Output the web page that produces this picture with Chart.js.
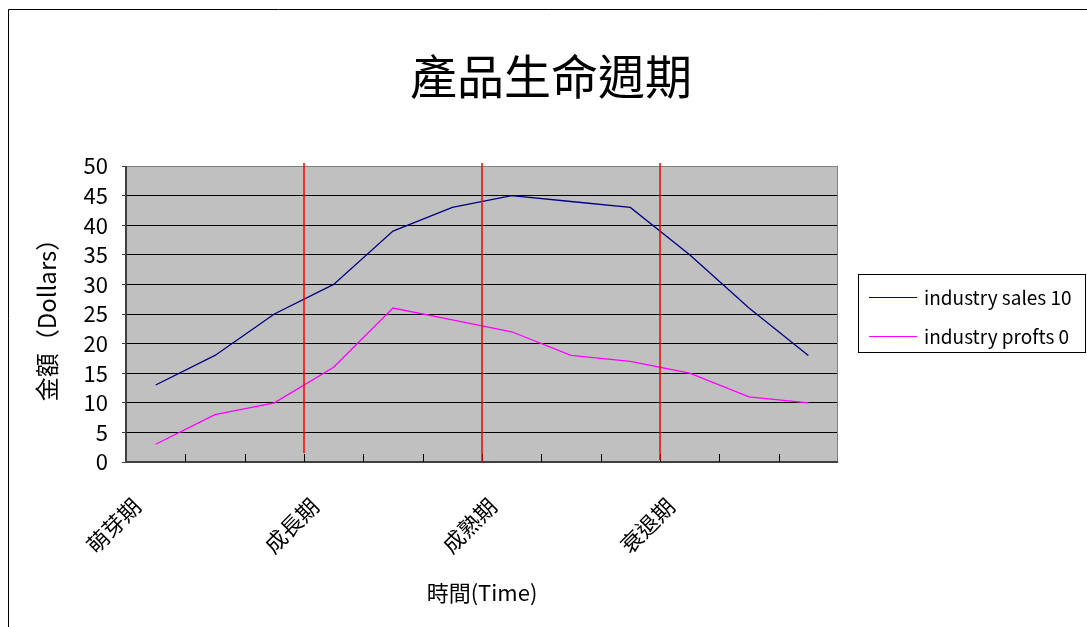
<!DOCTYPE html>
<html>
<head>
<meta charset="utf-8">
<script src="https://cdn.jsdelivr.net/npm/chart.js@4/dist/chart.umd.min.js"></script>
<style>
html,body{margin:0;padding:0;background:#fff;}
#wrap{width:1087px;height:627px;position:relative;}
</style>
</head>
<body>
<div id="wrap"><canvas id="c" width="1087" height="627"></canvas></div>
<script>
const chartTitle = '產品生命週期';
const categories = ['萌芽期', '', '', '成長期', '', '', '成熟期', '', '', '衰退期', '', ''];
const salesLabel = 'industry sales 10';
const profitsLabel = 'industry profts 0';
const salesValues = [13, 18, 25, 30, 39, 43, 45, 44, 43, 35, 26, 18];
const profitsValues = [3, 8, 10, 16, 26, 24, 22, 18, 17, 15, 11, 10];
const phaseBoundaries = [2.5, 5.5, 8.5];
const yTitle = '金額（Dollars）';
const xTitle = '時間(Time)';

const FONT = '"Noto Sans CJK TC", "Noto Sans", sans-serif';

const decor = {
  id: 'decor',
  beforeDraw(chart) {
    const ctx = chart.ctx;
    const a = chart.chartArea;
    ctx.save();
    ctx.fillStyle = '#fff';
    ctx.fillRect(0, 0, chart.width, chart.height);
    ctx.strokeStyle = '#000';
    ctx.lineWidth = 1;
    ctx.beginPath();
    ctx.moveTo(8.5, chart.height + 2);
    ctx.lineTo(8.5, 9.5);
    ctx.lineTo(chart.width + 2, 9.5);
    ctx.stroke();
    ctx.fillStyle = '#c0c0c0';
    ctx.fillRect(a.left, a.top, a.right - a.left, a.bottom - a.top);
    ctx.restore();
  },
  afterDatasetsDraw(chart) {
    const ctx = chart.ctx;
    const a = chart.chartArea;
    const xs = chart.scales.x;
    ctx.save();
    ctx.strokeStyle = '#808080';
    ctx.lineWidth = 1;
    ctx.strokeRect(a.left + 0.5, a.top + 0.5, a.right - a.left - 1, a.bottom - a.top - 1);
    ctx.strokeStyle = '#404040';
    ctx.lineWidth = 2;
    ctx.beginPath();
    ctx.moveTo(a.left, a.top);
    ctx.lineTo(a.left, a.bottom);
    ctx.lineTo(a.right, a.bottom);
    ctx.stroke();
    ctx.strokeStyle = '#000';
    ctx.lineWidth = 1;
    ctx.beginPath();
    for (let i = 1; i < categories.length; i++) {
      const x = Math.round(xs.getPixelForValue(i - 0.5)) + 0.5;
      ctx.moveTo(x, a.bottom);
      ctx.lineTo(x, a.bottom - 8);
    }
    ctx.stroke();
    ctx.strokeStyle = '#ff0000';
    ctx.lineWidth = 1.5;
    const ends = [a.bottom - 9, a.bottom, a.bottom - 2];
    phaseBoundaries.forEach((v, i) => {
      const x = Math.round(xs.getPixelForValue(v));
      ctx.beginPath();
      ctx.moveTo(x, a.top - 3);
      ctx.lineTo(x, ends[i]);
      ctx.stroke();
    });
    ctx.restore();
  },
  afterDraw(chart) {
    const ctx = chart.ctx;
    ctx.save();
    ctx.fillStyle = '#000';
    ctx.font = '47px ' + FONT;
    ctx.textAlign = 'center';
    ctx.textBaseline = 'middle';
    ctx.fillText(chartTitle, 551, 76);
    const lx = 858.5, ly = 274.5, lw = 227, lh = 78;
    ctx.strokeStyle = '#000';
    ctx.lineWidth = 1;
    ctx.strokeRect(lx, ly, lw, lh);
    ctx.font = '19px ' + FONT;
    ctx.textAlign = 'left';
    ctx.textBaseline = 'middle';
    const rows = [297, 336];
    chart.data.datasets.forEach((ds, i) => {
      ctx.strokeStyle = ds.borderColor;
      ctx.lineWidth = 1.2;
      ctx.beginPath();
      ctx.moveTo(869, rows[i] + 0.5);
      ctx.lineTo(917, rows[i] + 0.5);
      ctx.stroke();
      ctx.fillStyle = '#000';
      ctx.fillText(ds.label, 924, rows[i] + 1);
    });
    ctx.restore();
  }
};

new Chart(document.getElementById('c'), {
  type: 'line',
  data: {
    labels: categories,
    datasets: [
      { label: salesLabel, data: salesValues, borderColor: '#000080', borderWidth: 1.3, pointRadius: 0, tension: 0, fill: false },
      { label: profitsLabel, data: profitsValues, borderColor: '#ff00ff', borderWidth: 1.3, pointRadius: 0, tension: 0, fill: false }
    ]
  },
  options: {
    responsive: false,
    animation: false,
    events: [],
    layout: { padding: { left: 0, top: 166, right: 249, bottom: 0 } },
    plugins: { legend: { display: false }, title: { display: false }, tooltip: { enabled: false } },
    scales: {
      x: {
        type: 'category',
        offset: true,
        grid: { display: false, drawTicks: false },
        border: { display: false },
        ticks: {
          autoSkip: false, maxRotation: 45, minRotation: 45, padding: 31, labelOffset: -19,
          color: '#000', font: { family: FONT, size: 22 }
        },
        title: { display: true, text: xTitle, color: '#000', font: { family: FONT, size: 22 }, padding: { top: 0, bottom: 21 } },
        afterFit(s) { s.height = 165; }
      },
      y: {
        min: 0, max: 50,
        ticks: { stepSize: 5, color: '#000', font: { family: FONT, size: 22 }, padding: 14 },
        grid: { color: '#000', lineWidth: 1, drawTicks: true, tickLength: 4, tickColor: '#404040' },
        border: { display: false },
        title: { display: true, text: yTitle, color: '#000', font: { family: FONT, size: 24 }, padding: { top: 32 } },
        afterFit(s) { s.width = 126; }
      }
    }
  },
  plugins: [decor]
});
</script>
</body>
</html>
